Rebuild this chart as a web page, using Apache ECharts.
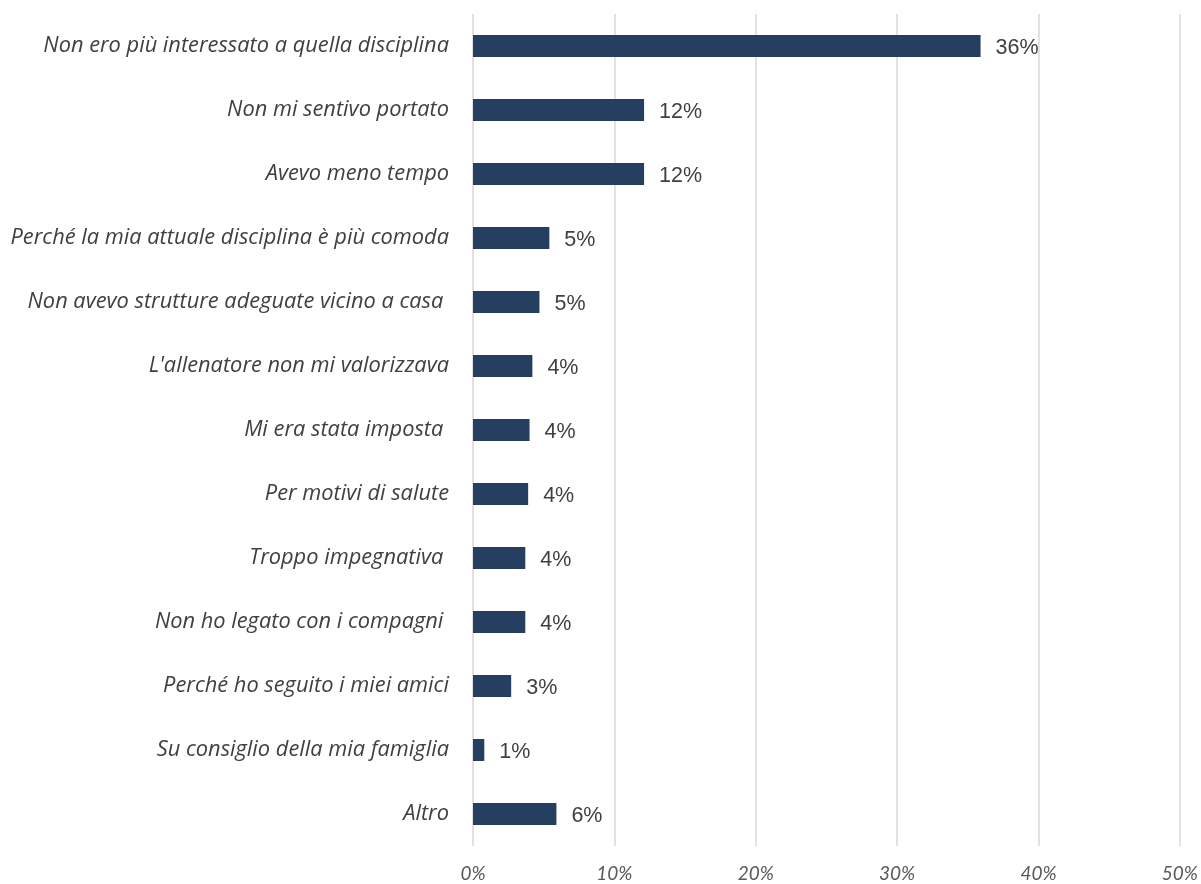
<!DOCTYPE html>
<html>
<head>
<meta charset="utf-8">
<script src="https://cdn.jsdelivr.net/npm/echarts@6/dist/echarts.min.js"></script>
<style>
  html, body { margin: 0; padding: 0; background: #ffffff; }
  #chart { width: 1201px; height: 884px; }
</style>
</head>
<body>
<div id="chart"></div>
<script>
// Motivi dell'abbandono della disciplina precedente (percentuale delle risposte)
const categories = [
  "Non ero più interessato a quella disciplina",
  "Non mi sentivo portato",
  "Avevo meno tempo",
  "Perché la mia attuale disciplina è più comoda",
  "Non avevo strutture adeguate vicino a casa ",
  "L'allenatore non mi valorizzava",
  "Mi era stata imposta ",
  "Per motivi di salute",
  "Troppo impegnativa ",
  "Non ho legato con i compagni ",
  "Perché ho seguito i miei amici",
  "Su consiglio della mia famiglia",
  "Altro"
];
const values = [35.9, 12.1, 12.1, 5.4, 4.7, 4.2, 4.0, 3.9, 3.7, 3.7, 2.7, 0.8, 5.9];
const xTicks = { min: 0, max: 50, interval: 10 };

const chart = echarts.init(document.getElementById('chart'), null, { renderer: 'canvas' });
chart.setOption({
  animation: false,
  backgroundColor: '#ffffff',
  grid: { left: 473, right: 18, top: 14, bottom: 38, containLabel: false },
  xAxis: {
    type: 'value',
    min: xTicks.min,
    max: xTicks.max,
    interval: xTicks.interval,
    axisLine: { show: false },
    axisTick: { show: false },
    splitLine: { show: true, lineStyle: { color: '#d9d9d9', width: 1.5 } },
    axisLabel: {
      formatter: v => v + '%',
      fontFamily: 'Lato, "Open Sans", sans-serif',
      fontStyle: 'italic',
      fontSize: 19,
      color: '#595959',
      margin: 18
    }
  },
  yAxis: {
    type: 'category',
    data: categories,
    inverse: true,
    axisLine: { show: false },
    axisTick: { show: false },
    axisLabel: {
      fontFamily: '"Open Sans", Lato, sans-serif',
      fontStyle: 'italic',
      fontSize: 21.8,
      color: '#404040',
      margin: 24,
      padding: [5, 0, 0, 0]
    }
  },
  series: [{
    type: 'bar',
    data: values,
    barWidth: 22,
    itemStyle: { color: '#243f60' },
    label: {
      show: true,
      position: 'right',
      distance: 15,
      offset: [0, 2],
      formatter: p => Math.round(p.value) + '%',
      fontFamily: '"Liberation Sans", Arial, sans-serif',
      fontSize: 21.5,
      color: '#404040'
    }
  }]
});
</script>
</body>
</html>
